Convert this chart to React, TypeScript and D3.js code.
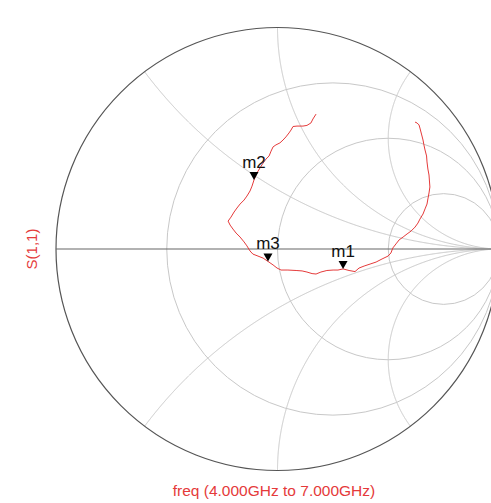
import React, { useEffect, useRef } from 'react';
import * as d3 from 'd3';

const s11Re = [
  0.174, 0.160, 0.151, 0.133, 0.115, 0.088, 0.070, 0.061, 0.052, 0.038,
  0.025, 0.011, -0.007, -0.020, -0.029, -0.038, -0.052, -0.065, -0.079, -0.093,
  -0.106, -0.115, -0.124, -0.138, -0.151, -0.169, -0.183, -0.196, -0.210, -0.223,
  -0.214, -0.201, -0.187, -0.169, -0.151, -0.138, -0.124, -0.111, -0.088, -0.065,
  -0.043, -0.020, -0.002, 0.016, 0.047, 0.084, 0.111, 0.133, 0.156, 0.174,
  0.196, 0.223, 0.251, 0.273, 0.296, 0.323, 0.350, 0.368, 0.391, 0.418,
  0.445, 0.472, 0.499, 0.512, 0.521, 0.535, 0.549, 0.567, 0.585, 0.603,
  0.621, 0.634, 0.643, 0.657, 0.666, 0.675, 0.679, 0.684, 0.688, 0.686,
  0.684, 0.679, 0.675, 0.673, 0.666, 0.661, 0.657, 0.650, 0.643, 0.639,
  0.630, 0.621,
];
const s11Im = [
  0.609, 0.587, 0.569, 0.558, 0.555, 0.555, 0.553, 0.537, 0.524, 0.506,
  0.492, 0.479, 0.470, 0.461, 0.442, 0.420, 0.406, 0.388, 0.366, 0.343,
  0.312, 0.284, 0.262, 0.239, 0.221, 0.203, 0.185, 0.167, 0.144, 0.126,
  0.108, 0.090, 0.072, 0.054, 0.032, 0.014, -0.009, -0.023, -0.032, -0.041,
  -0.056, -0.072, -0.086, -0.095, -0.095, -0.097, -0.099, -0.104, -0.111, -0.113,
  -0.104, -0.097, -0.095, -0.095, -0.090, -0.097, -0.102, -0.086, -0.077, -0.068,
  -0.059, -0.045, -0.032, -0.018, 0.005, 0.023, 0.041, 0.054, 0.068, 0.081,
  0.099, 0.117, 0.135, 0.158, 0.181, 0.203, 0.226, 0.253, 0.280, 0.307,
  0.334, 0.361, 0.393, 0.420, 0.447, 0.470, 0.492, 0.519, 0.546, 0.560,
  0.569, 0.573,
];

const markerNames = ['m1', 'm2', 'm3'];
const markerIndex = [54, 20, 40];

// grid of the smith chart
const resistances = [1 / 3, 1, 3];
const reactances = [0.5, 1, 2, -0.5, -1, -2];

const App: React.FC = () => {
  const svgRef = useRef<SVGSVGElement | null>(null);

  useEffect(() => {
    const svg = d3.select(svgRef.current);
    svg.selectAll('*').remove();

    const cx = 277.5;
    const cy = 249;
    const R = 221.5;

    const x = d3.scaleLinear().domain([-1, 1]).range([cx - R, cx + R]);
    const y = d3.scaleLinear().domain([-1, 1]).range([cy + R, cy - R]);

    const line = d3.line<[number, number]>()
      .x(d => x(d[0]))
      .y(d => y(d[1]));

    // gamma for z = r + jx
    const gamma = (r: number, xx: number): [number, number] => {
      const den = (r + 1) * (r + 1) + xx * xx;
      return [(r * r - 1 + xx * xx) / den, (2 * xx) / den];
    };

    const grid = svg.append('g')
      .attr('fill', 'none')
      .attr('stroke', '#c8c8c8')
      .attr('stroke-width', 1);

    grid.selectAll('circle')
      .data(resistances)
      .join('circle')
      .attr('cx', r => x(r / (1 + r)))
      .attr('cy', y(0))
      .attr('r', r => x(1 / (1 + r)) - x(0));

    const ts = d3.range(0, 1, 0.002);
    grid.selectAll('path')
      .data(reactances)
      .join('path')
      .attr('d', xx => line(ts.map(t => gamma(t / (1 - t), xx))));

    // outer circle + real axis
    svg.append('circle')
      .attr('cx', x(0))
      .attr('cy', y(0))
      .attr('r', x(1) - x(0))
      .attr('fill', 'none')
      .attr('stroke', '#555')
      .attr('stroke-width', 1.2);

    svg.append('line')
      .attr('x1', x(-1))
      .attr('x2', x(1))
      .attr('y1', y(0))
      .attr('y2', y(0))
      .attr('stroke', '#666')
      .attr('stroke-width', 1.2);

    const pts: [number, number][] = s11Re.map((re, i) => [re, s11Im[i]]);

    svg.append('path')
      .attr('d', line(pts))
      .attr('fill', 'none')
      .attr('stroke', '#e53a3a')
      .attr('stroke-width', 1);

    const mk = svg.append('g');
    markerNames.forEach((name, i) => {
      const p = pts[markerIndex[i]];
      const px = x(p[0]);
      const py = y(p[1]);
      mk.append('path')
        .attr('d', `M${px - 4.5},${py - 8}L${px + 4.5},${py - 8}L${px},${py}Z`)
        .attr('fill', '#000');
      mk.append('text')
        .attr('x', px)
        .attr('y', py - 12)
        .attr('text-anchor', 'middle')
        .attr('font-size', 17)
        .attr('fill', '#111')
        .text(name);
    });

    svg.append('text')
      .attr('transform', `translate(37,${cy}) rotate(-90)`)
      .attr('text-anchor', 'middle')
      .attr('font-size', 15)
      .attr('fill', '#e53a3a')
      .text('S(1,1)');

    svg.append('text')
      .attr('x', 274)
      .attr('y', 496)
      .attr('text-anchor', 'middle')
      .attr('font-size', 15.5)
      .attr('fill', '#e53a3a')
      .text('freq (4.000GHz to 7.000GHz)');
  }, []);

  return (
    <svg
      ref={svgRef}
      width={491}
      height={503}
      style={{ position: 'absolute', left: 0, top: 0, background: '#fff' }}
      fontFamily="'Liberation Sans', Arial, sans-serif"
    ></svg>
  );
};

export default App;
